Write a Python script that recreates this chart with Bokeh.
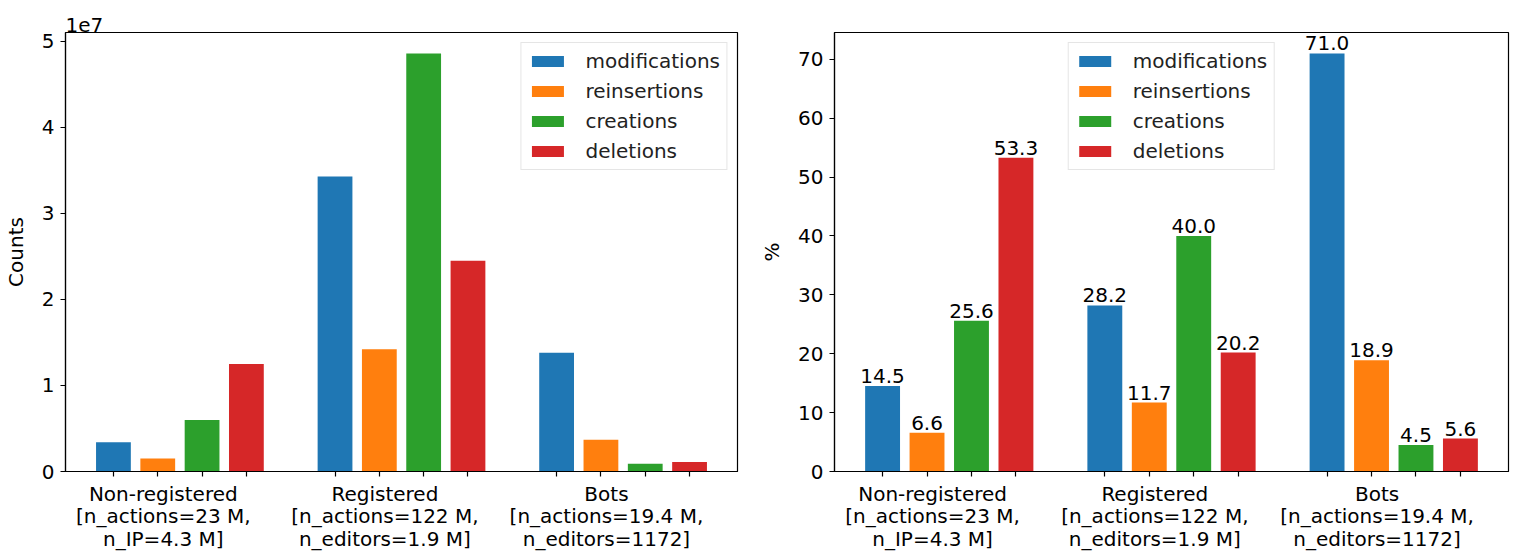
from bokeh.plotting import figure
from bokeh.models import Range1d, FixedTicker, ColumnDataSource
from bokeh.layouts import row
from bokeh.core.properties import value
from bokeh.embed import file_html
from bokeh.resources import INLINE

# ---- data ----
groups = [
    "Non-registered\n[n_actions=23 M,\nn_IP=4.3 M]",
    "Registered\n[n_actions=122 M,\nn_editors=1.9 M]",
    "Bots\n[n_actions=19.4 M,\nn_editors=1172]",
]
actions = ["modifications", "reinsertions", "creations", "deletions"]
colors = ["#1f77b4", "#ff7f0e", "#2ca02c", "#d62728"]

counts_modifications = [3.4e6, 34.3e6, 13.8e6]
counts_reinsertions = [1.5e6, 14.2e6, 3.7e6]
counts_creations = [6.0e6, 48.6e6, 0.9e6]
counts_deletions = [12.5e6, 24.5e6, 1.1e6]

pct_modifications = [14.5, 28.2, 71.0]
pct_reinsertions = [6.6, 11.7, 18.9]
pct_creations = [25.6, 40.0, 4.5]
pct_deletions = [53.3, 20.2, 5.6]

count_ticks = [0, 10000000, 20000000, 30000000, 40000000, 50000000]
count_tick_labels = ["0", "1", "2", "3", "4", "5"]
pct_ticks = [0, 10, 20, 30, 40, 50, 60, 70]
pct_tick_labels = ["0", "10", "20", "30", "40", "50", "60", "70"]

counts = [counts_modifications, counts_reinsertions, counts_creations, counts_deletions]
pcts = [pct_modifications, pct_reinsertions, pct_creations, pct_deletions]

FONT = "DejaVu Sans"
FS = "20px"
offsets = [-0.3, -0.1, 0.1, 0.3]
label_shift = -0.075
bar_w = 0.157
gpos = list(range(len(groups)))
bar_positions = sorted(g + o for g in gpos for o in offsets)
label_positions = [g + label_shift for g in gpos]
xmin = bar_positions[0] - bar_w / 2
xmax = bar_positions[-1] + bar_w / 2
xm = (xmax - xmin) * 0.05


def make_fig(series, ticks, tick_labels, ylabel, fw, mbl, mbr, annotate, legend_loc, title=""):
    top = max(max(s) for s in series) * 1.05
    p = figure(frame_width=fw, frame_height=439, output_backend="svg", toolbar_location=None,
               x_range=Range1d(xmin - xm, xmax + xm), y_range=Range1d(0, top),
               min_border_left=mbl, min_border_right=mbr, min_border_top=32,
               min_border_bottom=20, title=title)
    p.title.align = "left"
    p.title.text_font = FONT
    p.title.text_font_size = FS
    p.title.text_font_style = "normal"
    p.title.text_color = "black"
    p.title.standoff = 1
    p.title.offset = 0
    p.xgrid.visible = False
    p.ygrid.visible = False
    p.outline_line_color = "black"
    p.outline_line_width = 1.2
    p.background_fill_color = "white"
    p.border_fill_color = "white"

    for i, (act, vals) in enumerate(zip(actions, series)):
        src = ColumnDataSource(dict(x=[g + offsets[i] for g in gpos], top=vals,
                                    lab=[f"{v:.1f}" for v in vals]))
        p.vbar(x="x", top="top", width=bar_w, source=src, fill_color=colors[i],
               line_color=None, legend_label=act)
        if annotate:
            p.text(x="x", y="top", text="lab", source=src, text_align="center",
                   text_baseline="bottom", text_font=value(FONT), text_font_size=FS,
                   text_color="black", y_offset=-3)

    xa = p.xaxis[0]
    xa.ticker = FixedTicker(ticks=label_positions, minor_ticks=bar_positions)
    xa.major_label_overrides = {lp: lab for lp, lab in zip(label_positions, groups)}
    xa.major_tick_out = 0
    xa.major_tick_in = 0
    xa.minor_tick_out = 5
    xa.minor_tick_in = 0
    xa.minor_tick_line_color = "black"
    xa.minor_tick_line_width = 1.2
    xa.major_label_standoff = 5
    xa.major_label_text_font = FONT
    xa.major_label_text_font_size = FS
    xa.major_label_text_line_height = 0.95
    xa.major_label_text_color = "black"
    xa.axis_line_color = "black"
    xa.axis_line_width = 1.2

    ya = p.yaxis[0]
    ya.ticker = FixedTicker(ticks=ticks)
    ya.major_label_overrides = {t: l for t, l in zip(ticks, tick_labels)}
    ya.major_tick_out = 5
    ya.major_tick_in = 0
    ya.major_tick_line_color = "black"
    ya.major_tick_line_width = 1.2
    ya.minor_tick_line_color = None
    ya.major_label_standoff = 6
    ya.major_label_text_font = FONT
    ya.major_label_text_font_size = FS
    ya.major_label_text_color = "black"
    ya.axis_line_color = "black"
    ya.axis_line_width = 1.2
    ya.axis_label = ylabel
    ya.axis_label_text_font = FONT
    ya.axis_label_text_font_size = FS
    ya.axis_label_text_font_style = "normal"
    ya.axis_label_text_color = "black"
    ya.axis_label_standoff = 11

    lg = p.legend[0]
    lg.location = legend_loc
    lg.margin = 10
    lg.padding = 6
    lg.spacing = 6
    lg.label_height = 24
    lg.glyph_height = 14
    lg.glyph_width = 40
    lg.label_standoff = 18
    lg.label_text_font = FONT
    lg.label_text_font_size = FS
    lg.label_text_color = "#222222"
    lg.border_line_color = "#cccccc"
    lg.border_line_width = 1
    lg.background_fill_alpha = 0.8
    return p


p1 = make_fig(counts, count_ticks, count_tick_labels, "Counts", 672, 64, 16, False,
              "top_right", title="1e7")
p2 = make_fig(pcts, pct_ticks, pct_tick_labels, "%", 674, 81, 8, True, "top_center")

layout = row(p1, p2, styles={"margin-bottom": "-40px"})
open("out.html", "w").write(file_html(layout, INLINE))
